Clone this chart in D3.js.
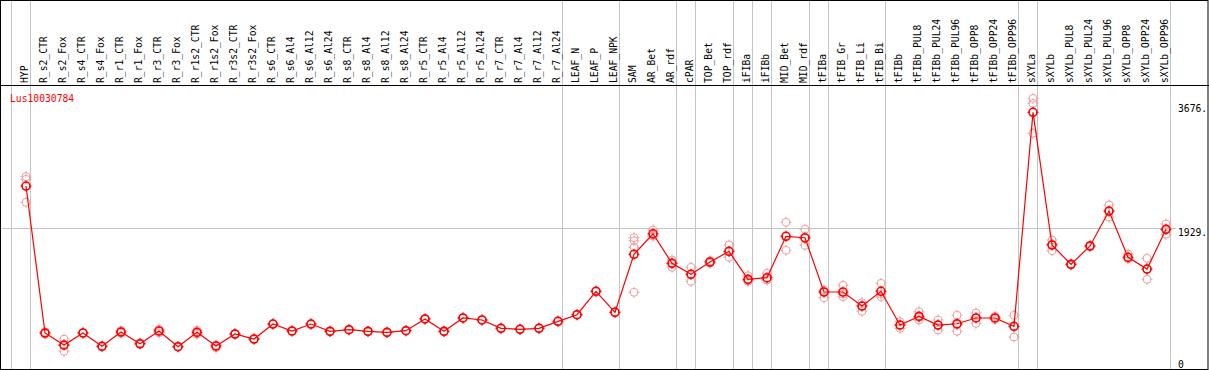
<!DOCTYPE html>
<head>
  <meta charset="utf-8">
  <style>
    body { margin: 0; background: #fff; }
    svg text { font-family: "DejaVu Sans Mono", "Liberation Mono", monospace; }
  </style>
  <script src="https://d3js.org/d3.v7.min.js" charset="utf-8"></script>
</head>
<body>
  <script>

    const geneName = 'Lus10030784';

    const samples = [
      'HYP', 'R_s2_CTR', 'R_s2_Fox', 'R_s4_CTR', 'R_s4_Fox', 'R_r1_CTR', 'R_r1_Fox',
      'R_r3_CTR', 'R_r3_Fox', 'R_r1s2_CTR', 'R_r1s2_Fox', 'R_r3s2_CTR', 'R_r3s2_Fox',
      'R_s6_CTR', 'R_s6_Al4', 'R_s6_Al12', 'R_s6_Al24', 'R_s8_CTR', 'R_s8_Al4',
      'R_s8_Al12', 'R_s8_Al24', 'R_r5_CTR', 'R_r5_Al4', 'R_r5_Al12', 'R_r5_Al24',
      'R_r7_CTR', 'R_r7_Al4', 'R_r7_Al12', 'R_r7_Al24', 'LEAF_N', 'LEAF_P', 'LEAF_NPK',
      'SAM', 'AR_Bet', 'AR_rdf', 'cPAR', 'TOP_Bet', 'TOP_rdf', 'iFIBa', 'iFIBb',
      'MID_Bet', 'MID_rdf', 'tFIBa', 'tFIB_Gr', 'tFIB_Li', 'tFIB_Bi', 'tFIBb',
      'tFIBb_PUL8', 'tFIBb_PUL24', 'tFIBb_PUL96', 'tFIBb_OPP8', 'tFIBb_OPP24', 'tFIBb_OPP96',
      'sXYLa', 'sXYLb', 'sXYLb_PUL8', 'sXYLb_PUL24', 'sXYLb_PUL96', 'sXYLb_OPP8',
      'sXYLb_OPP24', 'sXYLb_OPP96'
    ];

    // mean expression per sample
    const means = [
      2523, 457, 288, 457, 270, 471, 306, 485, 264, 466, 274, 443, 372,
      583, 485, 583, 480, 503, 480, 466, 489, 654, 480, 668, 640,
      523, 509, 523, 621, 714, 1043, 748,
      1563, 1852, 1436, 1282, 1455, 1605, 1211, 1234,
      1816, 1796, 1033, 1033, 836, 1043, 569,
      691, 569, 587, 668, 668, 551,
      3559, 1694, 1422, 1680, 2171, 1521, 1356, 1914
    ];

    // individual replicates per sample
    const replicates = [
      [2654, 2617, 2294], [470, 445], [372, 200, 290], [460, 455], [275, 265],
      [490, 455], [315, 300], [510, 460], [270, 258], [495, 440], [285, 250],
      [450, 436], [380, 365], [590, 578], [490, 480], [590, 576], [485, 476],
      [508, 498], [485, 476], [470, 462], [495, 484], [660, 648], [485, 475],
      [672, 664], [645, 636], [528, 518], [513, 505], [528, 518], [626, 616],
      [718, 710], [1048, 1038], [752, 744],
      [1796, 1754, 1661, 1029], [1904, 1835, 1817], [1483, 1445, 1380],
      [1380, 1283, 1183], [1470, 1440], [1694, 1600, 1521], [1262, 1183, 1190],
      [1296, 1210, 1202], [2013, 1816, 1619], [1914, 1785, 1689],
      [1061, 1033, 953], [1127, 1005, 967], [883, 836, 762], [1155, 1007, 967],
      [616, 569, 523], [756, 677, 640], [640, 569, 499], [706, 575, 481],
      [738, 672, 593], [690, 668, 646], [706, 545, 401],
      [3755, 3685, 3264], [1764, 1705, 1613], [1430, 1414], [1690, 1670],
      [2256, 2170, 2087], [1567, 1497], [1507, 1356, 1211], [1989, 1914, 1844]
    ];

    // first sample index of each tissue group (last entry closes the final group)
    const groupStarts = [0, 1, 29, 32, 35, 36, 38, 39, 40, 42, 43, 46, 53, 54, 61];

    const yTicks = [0, 1929, 3676];
    const gridTicks = [1929];

    const w = 1209,
          h = 370,
          headerH = 85,
          bottom = 369;

    const svg = d3.select('body').append('svg')
          .attr('width', w)
          .attr('height', h);

    const xScale = d3.scaleLinear()
                    .domain([0, samples.length - 1])
                    .range([26, 1166]);

    const yScale = d3.scaleLinear()
                    .domain([0, 3676])
                    .range([365.5, 104]);

    // group separators
    svg.append('g')
       .selectAll('line')
       .data(groupStarts)
       .enter()
       .append('line')
       .attr('x1', (d) => Math.round(xScale(d)) - 15 + 0.5)
       .attr('x2', (d) => Math.round(xScale(d)) - 15 + 0.5)
       .attr('y1', 0)
       .attr('y2', bottom)
       .attr('stroke', '#c4c4c4');

    // horizontal grid
    svg.append('g')
       .selectAll('line')
       .data(gridTicks)
       .enter()
       .append('line')
       .attr('x1', 1)
       .attr('x2', 1176)
       .attr('y1', (d) => Math.round(yScale(d)) + 0.5)
       .attr('y2', (d) => Math.round(yScale(d)) + 0.5)
       .attr('stroke', '#c4c4c4');

    // frame and header line
    svg.append('rect')
       .attr('x', 0.5)
       .attr('y', 0.5)
       .attr('width', w - 1.5)
       .attr('height', bottom)
       .attr('fill', 'none')
       .attr('stroke', 'black');

    svg.append('line')
       .attr('x1', 0).attr('x2', w)
       .attr('y1', headerH + 0.5).attr('y2', headerH + 0.5)
       .attr('stroke', 'black');

    // sample labels
    svg.append('g')
       .selectAll('text')
       .data(samples)
       .enter()
       .append('text')
       .attr('transform', (d, i) => `translate(${xScale(i) + 2}, 83) rotate(-90)`)
       .attr('font-size', '9.7px')
       .attr('fill', 'black')
       .text((d) => d);

    // right value labels
    svg.append('g')
       .selectAll('text')
       .data(yTicks)
       .enter()
       .append('text')
       .attr('x', 1178)
       .attr('y', (d) => Math.min(yScale(d), 360.5) + 7.6)
       .attr('font-size', '9.7px')
       .attr('fill', 'black')
       .text((d) => d === 0 ? '0' : d + '.');

    svg.append('text')
       .attr('x', 10)
       .attr('y', 101.5)
       .attr('font-size', '9.7px')
       .attr('fill', 'red')
       .text(geneName);

    const tickPath = (cx, cy, r) =>
      `M${cx},${cy - r - 1.5}v2.5M${cx},${cy + r - 1}v2.5` +
      `M${cx - r - 1.5},${cy}h2.5M${cx + r - 1},${cy}h2.5`;

    // replicate points
    const repData = [];
    replicates.forEach((reps, i) => reps.forEach((v) => repData.push([i, v])));

    const reps = svg.append('g').attr('id', 'replicates');
    reps.selectAll('circle')
        .data(repData)
        .enter()
        .append('circle')
        .attr('cx', (d) => xScale(d[0]))
        .attr('cy', (d) => yScale(d[1]))
        .attr('r', 4)
        .attr('fill', 'none')
        .attr('stroke', '#f2a2a2');
    reps.selectAll('path')
        .data(repData)
        .enter()
        .append('path')
        .attr('d', (d) => tickPath(xScale(d[0]), yScale(d[1]), 4))
        .attr('stroke', '#f2a2a2');

    // mean line
    const line = d3.line()
                   .x((d, i) => xScale(i))
                   .y((d) => yScale(d));

    svg.append('path')
       .datum(means)
       .attr('d', line)
       .attr('fill', 'none')
       .attr('stroke', 'red')
       .attr('stroke-width', 1.2);

    const mains = svg.append('g').attr('id', 'means');
    mains.selectAll('circle')
         .data(means)
         .enter()
         .append('circle')
         .attr('cx', (d, i) => xScale(i))
         .attr('cy', (d) => yScale(d))
         .attr('r', 4)
         .attr('fill', 'none')
         .attr('stroke', 'red')
         .attr('stroke-width', 1.6);
    mains.selectAll('path')
         .data(means)
         .enter()
         .append('path')
         .attr('d', (d, i) => tickPath(xScale(i), yScale(d), 4))
         .attr('stroke', 'red');

  </script>
</body>
